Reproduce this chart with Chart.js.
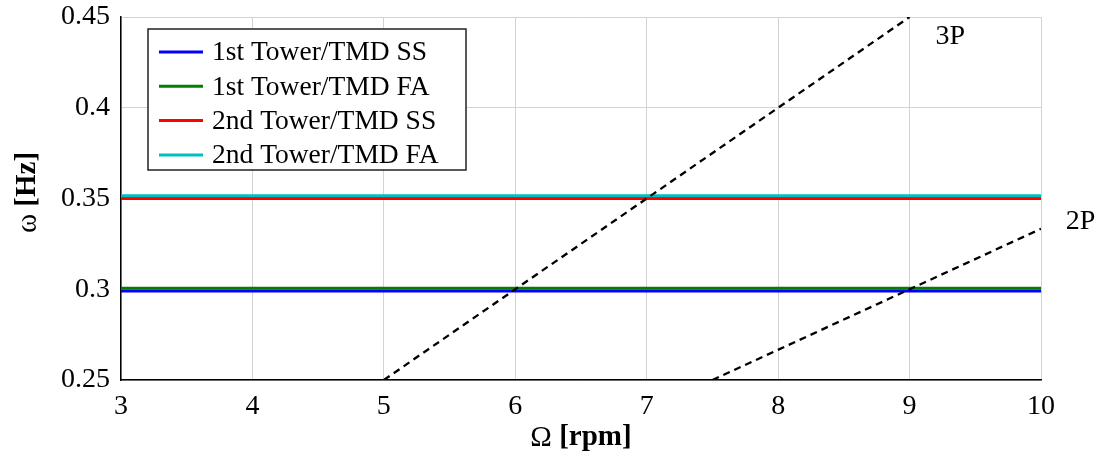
<!DOCTYPE html>
<html>
<head>
<meta charset="utf-8">
<script src="https://cdn.jsdelivr.net/npm/chart.js@4"></script>
<style>
  body { margin: 0; background: #fff; }
  #wrap { width: 1101px; height: 460px; }
</style>
</head>
<body>
<div id="wrap"><canvas id="chart" width="1101" height="460"></canvas></div>
<script>
// rotor speed range [rpm] and tower/TMD frequencies [Hz]
const rpmRange = [3, 10];
const tower1SS = [0.299, 0.299];
const tower1FA = [0.3005, 0.3005];
const tower2SS = [0.35, 0.35];
const tower2FA = [0.3515, 0.3515];

// rotor harmonics (end points)
const rpm3P = [5, 9];
const hz3P = [0.25, 0.45];
const rpm2P = [7.5, 10];
const hz2P = [0.25, 0.3333];

const yTicks = ["0.25", "0.3", "0.35", "0.4", "0.45"];
const harmonicLabels = [
  { text: "3P", x: 9.31, y: 0.439 },
  { text: "2P", x: 10.3, y: 0.337 },
];

const serif = '"Liberation Serif", "DejaVu Serif", serif';

const pts = (xs, ys) => xs.map((x, i) => ({ x: x, y: ys[i] }));

const lineSet = (label, xs, ys, color, order) => ({
  label: label,
  data: pts(xs, ys),
  borderColor: color,
  backgroundColor: color,
  borderWidth: 3,
  pointRadius: 0,
  order: order,
});

const dashSet = (label, xs, ys) => ({
  label: label,
  data: pts(xs, ys),
  borderColor: "#000",
  borderWidth: 2.3,
  borderDash: [7, 5],
  pointRadius: 0,
  order: 0,
  inLegend: false,
});

const extras = {
  id: "extras",
  afterDraw(chart) {
    const ctx = chart.ctx;
    const area = chart.chartArea;
    const xs = chart.scales.x;
    const ys = chart.scales.y;
    ctx.save();

    // harmonic labels
    ctx.fillStyle = "#000";
    ctx.font = "28px " + serif;
    ctx.textAlign = "center";
    ctx.textBaseline = "middle";
    harmonicLabels.forEach((l) => {
      ctx.fillText(l.text, xs.getPixelForValue(l.x), ys.getPixelForValue(l.y));
    });

    // axis titles with bold units
    const drawTitle = (plain, bold) => {
      ctx.font = "29px " + serif;
      const w1 = ctx.measureText(plain).width;
      ctx.font = "bold 29px " + serif;
      const w2 = ctx.measureText(bold).width;
      let x = -(w1 + w2) / 2;
      ctx.textAlign = "left";
      ctx.font = "29px " + serif;
      ctx.fillText(plain, x, 0);
      ctx.font = "bold 29px " + serif;
      ctx.fillText(bold, x + w1, 0);
    };
    ctx.save();
    ctx.translate((area.left + area.right) / 2, 438);
    drawTitle("Ω ", "[rpm]");
    ctx.restore();
    ctx.save();
    ctx.translate(28, (area.top + area.bottom) / 2 - 6);
    ctx.rotate(-Math.PI / 2);
    drawTitle("ω ", "[Hz]");
    ctx.restore();

    // legend box
    const items = chart.data.datasets.filter((d) => d.inLegend !== false);
    const bx = 148, by = 29, bw = 318, bh = 141;
    ctx.fillStyle = "#fff";
    ctx.fillRect(bx, by, bw, bh);
    ctx.strokeStyle = "#222";
    ctx.lineWidth = 1.5;
    ctx.strokeRect(bx, by, bw, bh);
    ctx.font = "27.5px " + serif;
    ctx.textAlign = "left";
    ctx.textBaseline = "middle";
    items.forEach((d, i) => {
      const cy = by + 23 + i * 34.3;
      ctx.strokeStyle = d.borderColor;
      ctx.lineWidth = 3;
      ctx.beginPath();
      ctx.moveTo(bx + 11, cy);
      ctx.lineTo(bx + 55, cy);
      ctx.stroke();
      ctx.fillStyle = "#000";
      ctx.fillText(d.label, bx + 64, cy + 1);
    });
    ctx.restore();
  },
};

new Chart(document.querySelector("#chart").getContext("2d"), {
  type: "line",
  data: {
    datasets: [
      lineSet("1st Tower/TMD SS", rpmRange, tower1SS, "#0000ff", 4),
      lineSet("1st Tower/TMD FA", rpmRange, tower1FA, "#008000", 3),
      lineSet("2nd Tower/TMD SS", rpmRange, tower2SS, "#ff0000", 2),
      lineSet("2nd Tower/TMD FA", rpmRange, tower2FA, "#00bfbf", 1),
      dashSet("3P", rpm3P, hz3P),
      dashSet("2P", rpm2P, hz2P),
    ],
  },
  options: {
    responsive: false,
    animation: false,
    layout: { padding: { top: 17, right: 60, left: 0, bottom: 0 } },
    plugins: {
      legend: { display: false },
      tooltip: { enabled: false },
    },
    scales: {
      x: {
        type: "linear",
        min: 3,
        max: 10,
        ticks: {
          stepSize: 1,
          color: "#000",
          padding: 10,
          font: { family: serif, size: 28 },
        },
        grid: { color: "#d3d3d3", lineWidth: 1, drawTicks: false },
        border: { color: "#000", width: 1.5 },
        afterFit: (s) => { s.height = 80; },
      },
      y: {
        min: 0.25,
        max: 0.45,
        ticks: {
          stepSize: 0.05,
          color: "#000",
          padding: 11,
          font: { family: serif, size: 28 },
          callback: (v, i) => yTicks[i],
        },
        grid: { color: "#d3d3d3", lineWidth: 1, drawTicks: false },
        border: { color: "#000", width: 1.5 },
        afterFit: (s) => {
          s.width = 121;
          s.paddingTop = 0;
          s.paddingBottom = 0;
        },
      },
    },
  },
  plugins: [extras],
});
</script>
</body>
</html>
